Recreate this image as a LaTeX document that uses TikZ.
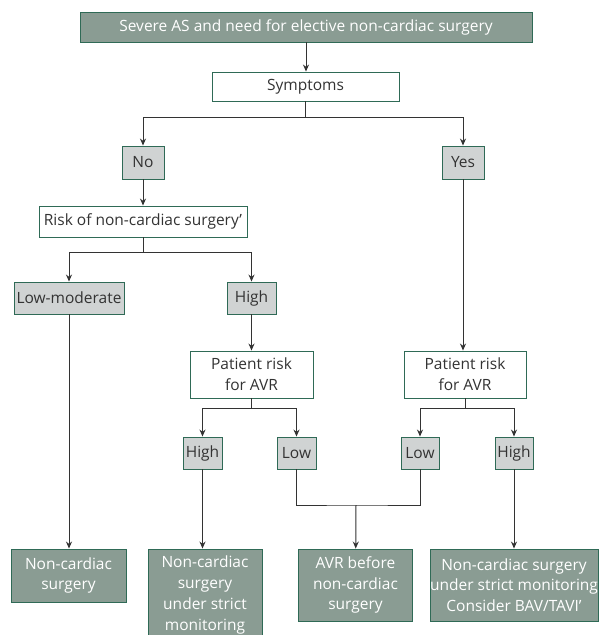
\documentclass[tikz,border=0pt]{standalone}
\usepackage{fontspec}
\setmainfont{Open Sans}
\usetikzlibrary{arrows.meta}

\definecolor{boxdark}{HTML}{8A9C93}
\definecolor{boxgrey}{HTML}{D0D3D3}
\definecolor{boxline}{HTML}{2F6A56}
\definecolor{txtgrey}{HTML}{333333}

\begin{document}
\begin{tikzpicture}[
        x=1pt, y=-1pt,
        every node/.style={font=\fontsize{15.5}{20.8}\selectfont, align=center, inner sep=0pt},
        dark box/.style={draw=boxline, line width=0.9pt, fill=boxdark, text=white},
        grey box/.style={draw=boxline, line width=0.9pt, fill=boxgrey, text=txtgrey},
        white box/.style={draw=boxline, line width=0.9pt, fill=white, text=txtgrey},
        link/.style={draw=black!80, line width=1pt},
        arrow link/.style={link, -{Stealth[length=7pt,width=6pt]}}
      ]

      \useasboundingbox (0,0) rectangle (598,635);

      % top of the tree
      \node[dark box, minimum width=452, minimum height=30] (start) at (306,27) {Severe AS and need for elective non-cardiac surgery};
      \node[white box, minimum width=187, minimum height=29] (symptoms) at (305.5,86.5) {Symptoms};

      \node[grey box, minimum width=42, minimum height=33] (no) at (143,162.5) {No};
      \node[grey box, minimum width=42, minimum height=33] (yes) at (463,162.5) {Yes};

      \node[white box, minimum width=208, minimum height=31] (risk) at (143,221.5) {Risk of non-cardiac surgery’};
      \node[grey box, minimum width=110, minimum height=32] (lowmod) at (69,298) {Low-moderate};
      \node[grey box, minimum width=49, minimum height=32] (high) at (251.5,298) {High};

      \node[white box, minimum width=123, minimum height=47] (avrrisk a) at (251.5,374.5) {Patient risk\\for AVR};
      \node[white box, minimum width=122, minimum height=47] (avrrisk b) at (465,374.5) {Patient risk\\for AVR};

      \node[grey box, minimum width=39, minimum height=32] (high a) at (202.5,453) {High};
      \node[grey box, minimum width=39, minimum height=32] (low a) at (296.5,453) {Low};
      \node[grey box, minimum width=38, minimum height=32] (low b) at (420,453) {Low};
      \node[grey box, minimum width=38, minimum height=32] (high b) at (514,453) {High};

      % outcomes
      \node[dark box, minimum width=115, minimum height=53] (out a) at (68.5,575.5) {Non-cardiac\\surgery};
      \node[dark box, minimum width=114, minimum height=92] (out b) at (205,595) {Non-cardiac\\surgery\\under strict\\monitoring};
      \node[dark box, minimum width=114, minimum height=72] (out c) at (355.5,585) {AVR before\\non-cardiac\\surgery};
      \node[dark box, minimum width=168, minimum height=72] (out d) at (514,585) {Non-cardiac surgery\\under strict monitoring\\Consider BAV/TAVI’};

      \coordinate (join) at (356,505);

      \draw[arrow link] (start.south) -- (start.south |- symptoms.north);
      \draw[arrow link] (symptoms.south) -- ++(0,16) -| (no.north);
      \draw[arrow link] (symptoms.south) -- ++(0,16) -| (yes.north);
      \draw[arrow link] (no) -- (risk);
      \draw[arrow link] (risk.south) -- ++(0,15) -| (lowmod.north);
      \draw[arrow link] (risk.south) -- ++(0,15) -| (high.north);
      \draw[arrow link] (high) -- (avrrisk a);
      \draw[arrow link] (yes.south) -- (yes.south |- avrrisk b.north);

      \foreach \src/\dst in {avrrisk a/high a, avrrisk a/low a, avrrisk b/low b, avrrisk b/high b}
        \draw[arrow link] (\src.south) -- ++(0,10) -| (\dst.north);

      \foreach \src/\dst in {lowmod/out a, high a/out b, high b/out d}
        \draw[arrow link] (\src.south) -- (\src.south |- \dst.north);
      \draw[link] (low a.south) |- (join) -| (low b.south);
      \draw[arrow link] (join) -- (out c);

    \end{tikzpicture}
\end{document}
